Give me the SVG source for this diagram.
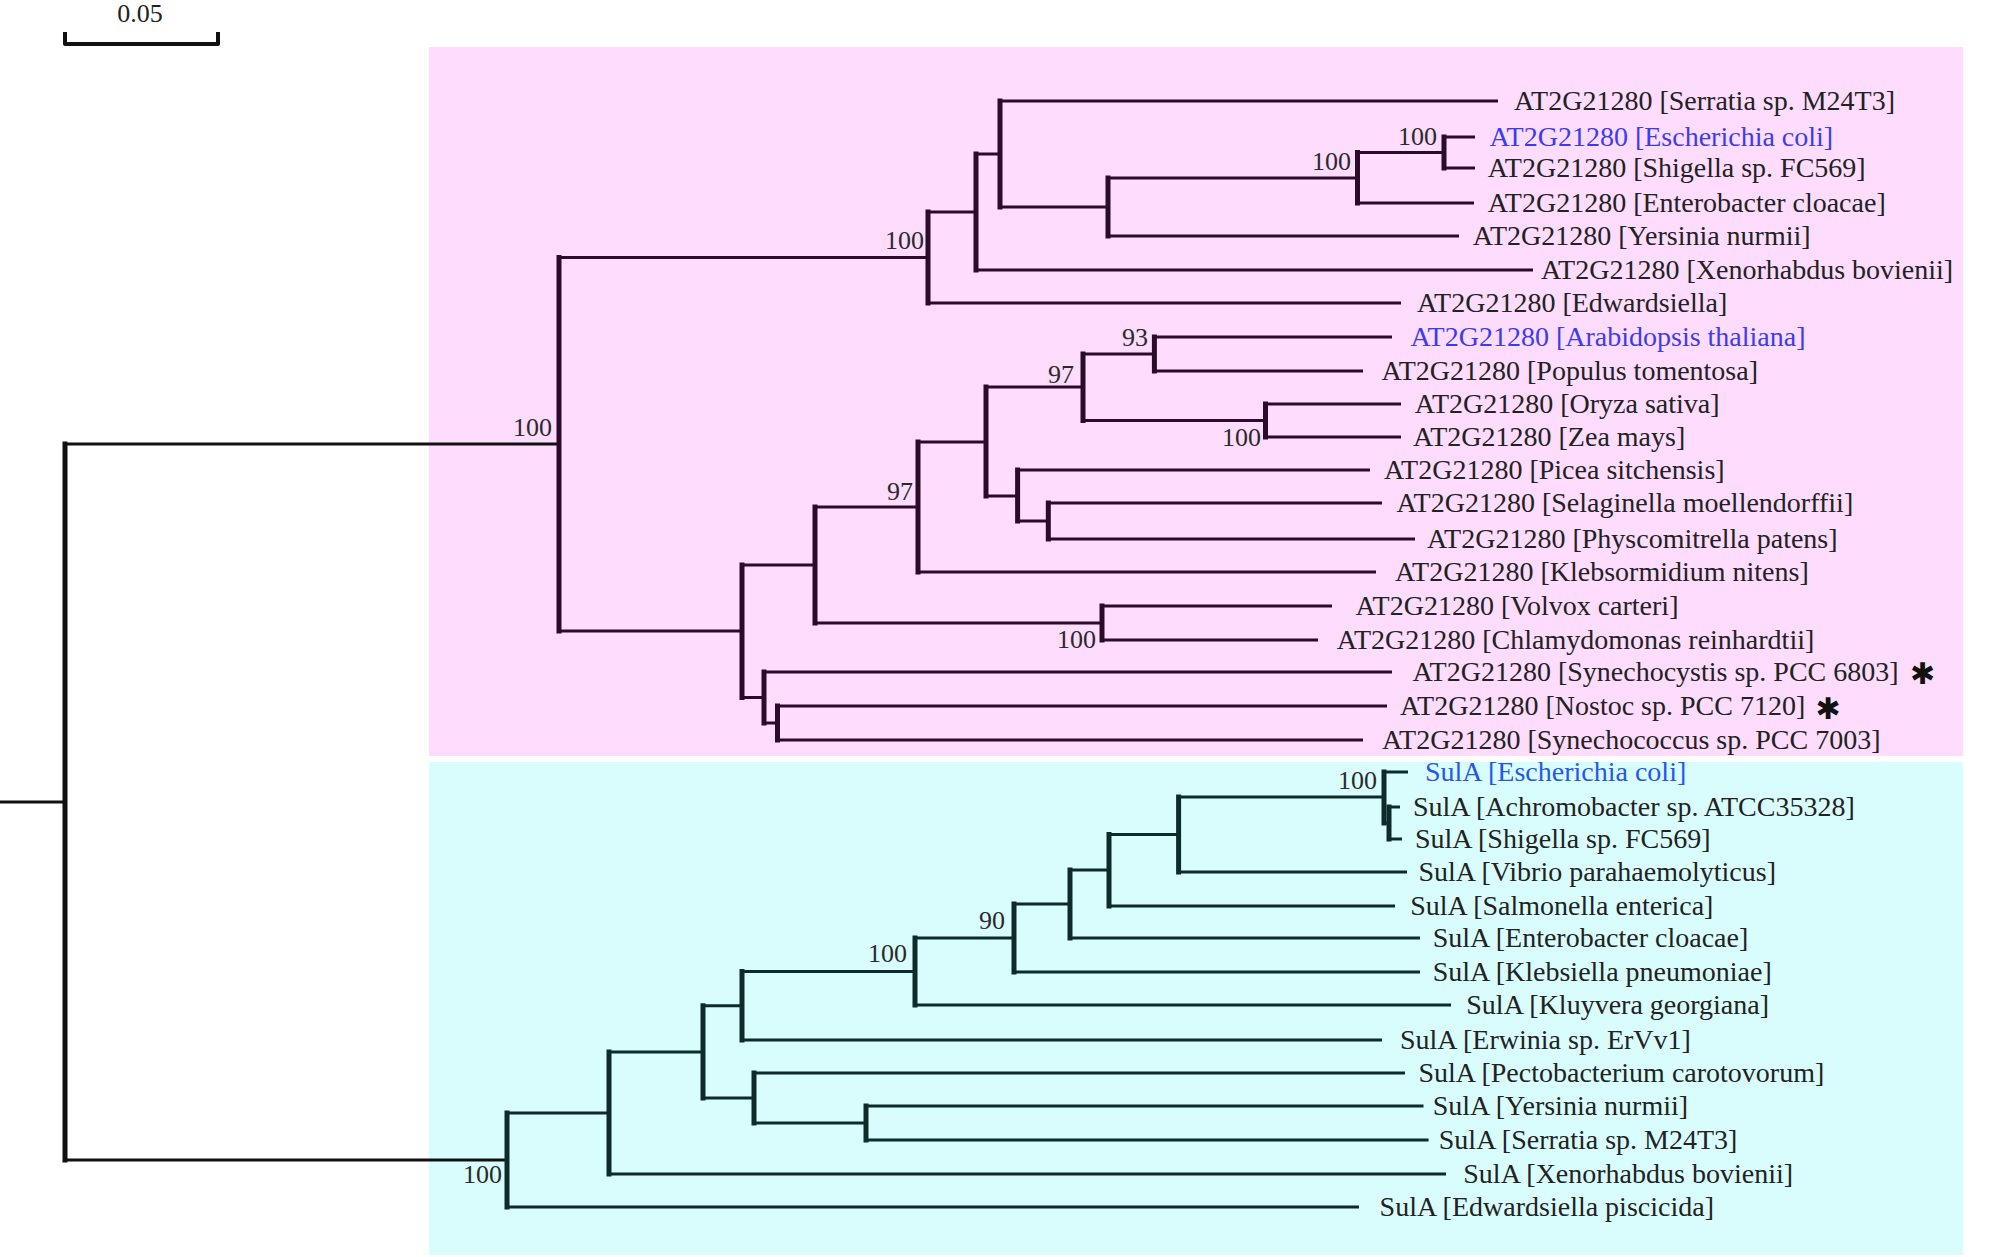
<svg xmlns="http://www.w3.org/2000/svg" width="2000" height="1257" viewBox="0 0 2000 1257">
<style>
text{font-family:"Liberation Serif","Times New Roman",serif;fill:#222}
.lf{font-size:28px}
.bs{font-size:26px;text-anchor:end;fill:#2a2a2a}
.blueP{fill:#3b3bf2}
.blueC{fill:#2457ee}
.ast{font-family:"DejaVu Sans",sans-serif;font-size:30px;fill:#111;text-anchor:middle}
.h{stroke-width:3;fill:none}
.v{stroke-width:5;fill:none;stroke-linecap:square}
.root line{stroke:#111}
.pk line{stroke:#2a0c2a}
.cy line{stroke:#0e2b2b}
</style>
<rect x="429" y="47" width="1534" height="709" fill="#fddcfd"/>
<rect x="429" y="762" width="1534" height="493" fill="#d9fdfd"/>

<g id="scale-bar">
<path d="M65,32 V44 H218 V32" fill="none" stroke="#111" stroke-width="4" stroke-linejoin="round"/>
<text x="140" y="22" style="font-size:26px" text-anchor="middle">0.05</text>
</g>

<g id="connectors">
<g class="root">
<line class="h" x1="0" y1="802" x2="65" y2="802"/>
<line class="v" x1="65" y1="444" x2="65" y2="1160"/>
<line class="h" x1="65" y1="444" x2="559" y2="444"/>
<line class="h" x1="65" y1="1160" x2="507" y2="1160"/>
</g>
<g class="pk">
<line class="v" x1="559" y1="257.5" x2="559" y2="631"/>
<line class="h" x1="559" y1="257.5" x2="928" y2="257.5"/>
<line class="h" x1="559" y1="631" x2="742" y2="631"/>
<line class="v" x1="928" y1="212" x2="928" y2="303"/>
<line class="h" x1="928" y1="212" x2="976" y2="212"/>
<line class="h" x1="928" y1="303" x2="1401" y2="303"/>
<line class="v" x1="976" y1="154" x2="976" y2="270"/>
<line class="h" x1="976" y1="154" x2="1000" y2="154"/>
<line class="h" x1="976" y1="270" x2="1533" y2="270"/>
<line class="v" x1="1000" y1="101" x2="1000" y2="207"/>
<line class="h" x1="1000" y1="101" x2="1498" y2="101"/>
<line class="h" x1="1000" y1="207" x2="1108" y2="207"/>
<line class="v" x1="1108" y1="178" x2="1108" y2="236"/>
<line class="h" x1="1108" y1="178" x2="1357.5" y2="178"/>
<line class="h" x1="1108" y1="236" x2="1459" y2="236"/>
<line class="v" x1="1357.5" y1="152.5" x2="1357.5" y2="203"/>
<line class="h" x1="1357.5" y1="152.5" x2="1444" y2="152.5"/>
<line class="h" x1="1357.5" y1="203" x2="1474" y2="203"/>
<line class="v" x1="1444" y1="137" x2="1444" y2="168"/>
<line class="h" x1="1444" y1="137" x2="1475" y2="137"/>
<line class="h" x1="1444" y1="168" x2="1475" y2="168"/>
<line class="v" x1="742" y1="565" x2="742" y2="697.5"/>
<line class="h" x1="742" y1="565" x2="815" y2="565"/>
<line class="h" x1="742" y1="697.5" x2="764" y2="697.5"/>
<line class="v" x1="815" y1="507" x2="815" y2="623"/>
<line class="h" x1="815" y1="507" x2="918" y2="507"/>
<line class="h" x1="815" y1="623" x2="1102" y2="623"/>
<line class="v" x1="1102" y1="606" x2="1102" y2="640"/>
<line class="h" x1="1102" y1="606" x2="1332" y2="606"/>
<line class="h" x1="1102" y1="640" x2="1318" y2="640"/>
<line class="v" x1="918" y1="442" x2="918" y2="572"/>
<line class="h" x1="918" y1="442" x2="986" y2="442"/>
<line class="h" x1="918" y1="572" x2="1376" y2="572"/>
<line class="v" x1="986" y1="387" x2="986" y2="496"/>
<line class="h" x1="986" y1="387" x2="1083" y2="387"/>
<line class="h" x1="986" y1="496" x2="1017.6" y2="496"/>
<line class="v" x1="1083" y1="354" x2="1083" y2="420.5"/>
<line class="h" x1="1083" y1="354" x2="1154.4" y2="354"/>
<line class="h" x1="1083" y1="420.5" x2="1265.5" y2="420.5"/>
<line class="v" x1="1154.4" y1="337" x2="1154.4" y2="371"/>
<line class="h" x1="1154.4" y1="337" x2="1392" y2="337"/>
<line class="h" x1="1154.4" y1="371" x2="1363" y2="371"/>
<line class="v" x1="1265.5" y1="404" x2="1265.5" y2="437"/>
<line class="h" x1="1265.5" y1="404" x2="1401" y2="404"/>
<line class="h" x1="1265.5" y1="437" x2="1401" y2="437"/>
<line class="v" x1="1017.6" y1="470" x2="1017.6" y2="521"/>
<line class="h" x1="1017.6" y1="470" x2="1370" y2="470"/>
<line class="h" x1="1017.6" y1="521" x2="1048.3" y2="521"/>
<line class="v" x1="1048.3" y1="503" x2="1048.3" y2="539"/>
<line class="h" x1="1048.3" y1="503" x2="1382" y2="503"/>
<line class="h" x1="1048.3" y1="539" x2="1415" y2="539"/>
<line class="v" x1="764" y1="672" x2="764" y2="723"/>
<line class="h" x1="764" y1="672" x2="1392" y2="672"/>
<line class="h" x1="764" y1="723" x2="777.5" y2="723"/>
<line class="v" x1="777.5" y1="706" x2="777.5" y2="740"/>
<line class="h" x1="777.5" y1="706" x2="1387" y2="706"/>
<line class="h" x1="777.5" y1="740" x2="1363" y2="740"/>
</g>
<g class="cy">
<line class="v" x1="507" y1="1113" x2="507" y2="1207"/>
<line class="h" x1="507" y1="1113" x2="609" y2="1113"/>
<line class="h" x1="507" y1="1207" x2="1359" y2="1207"/>
<line class="v" x1="609" y1="1052" x2="609" y2="1174"/>
<line class="h" x1="609" y1="1052" x2="703" y2="1052"/>
<line class="h" x1="609" y1="1174" x2="1446" y2="1174"/>
<line class="v" x1="703" y1="1005.75" x2="703" y2="1098"/>
<line class="h" x1="703" y1="1005.75" x2="742" y2="1005.75"/>
<line class="h" x1="703" y1="1098" x2="754" y2="1098"/>
<line class="v" x1="754" y1="1073" x2="754" y2="1123"/>
<line class="h" x1="754" y1="1073" x2="1405" y2="1073"/>
<line class="h" x1="754" y1="1123" x2="866" y2="1123"/>
<line class="v" x1="866" y1="1106" x2="866" y2="1140"/>
<line class="h" x1="866" y1="1106" x2="1423.5" y2="1106"/>
<line class="h" x1="866" y1="1140" x2="1428.6" y2="1140"/>
<line class="v" x1="742" y1="971.5" x2="742" y2="1040"/>
<line class="h" x1="742" y1="971.5" x2="915" y2="971.5"/>
<line class="h" x1="742" y1="1040" x2="1382" y2="1040"/>
<line class="v" x1="915" y1="938" x2="915" y2="1005"/>
<line class="h" x1="915" y1="938" x2="1014" y2="938"/>
<line class="h" x1="915" y1="1005" x2="1451" y2="1005"/>
<line class="v" x1="1014" y1="904" x2="1014" y2="972"/>
<line class="h" x1="1014" y1="904" x2="1070" y2="904"/>
<line class="h" x1="1014" y1="972" x2="1420" y2="972"/>
<line class="v" x1="1070" y1="870" x2="1070" y2="938"/>
<line class="h" x1="1070" y1="870" x2="1109" y2="870"/>
<line class="h" x1="1070" y1="938" x2="1420" y2="938"/>
<line class="v" x1="1109" y1="834.5" x2="1109" y2="906"/>
<line class="h" x1="1109" y1="834.5" x2="1178.6" y2="834.5"/>
<line class="h" x1="1109" y1="906" x2="1395" y2="906"/>
<line class="v" x1="1178.6" y1="797" x2="1178.6" y2="872"/>
<line class="h" x1="1178.6" y1="797" x2="1384" y2="797"/>
<line class="h" x1="1178.6" y1="872" x2="1407" y2="872"/>
<line class="v" x1="1384" y1="772" x2="1384" y2="823"/>
<line class="h" x1="1384" y1="772" x2="1408" y2="772"/>
<line class="h" x1="1384" y1="823" x2="1389" y2="823"/>
<line class="v" x1="1389" y1="807" x2="1389" y2="839"/>
<line class="h" x1="1389" y1="807" x2="1400" y2="807"/>
<line class="h" x1="1389" y1="839" x2="1402" y2="839"/>
</g>
</g>

<g id="bootstrap">
<g id="n-pink"><text class="bs" x="552" y="436">100</text></g>
<g id="n-enterobacteria-at"><text class="bs" x="924" y="249">100</text></g>
<g id="n-ecoli-shig-ent-at"><text class="bs" x="1351" y="170">100</text></g>
<g id="n-ecoli-shig-at"><text class="bs" x="1437" y="145">100</text></g>
<g id="n-arab-pop"><text class="bs" x="1148" y="346">93</text></g>
<g id="n-angio"><text class="bs" x="1074" y="383">97</text></g>
<g id="n-monocot"><text class="bs" x="1261" y="446">100</text></g>
<g id="n-streptophyta"><text class="bs" x="913" y="500">97</text></g>
<g id="n-chloro"><text class="bs" x="1096" y="648">100</text></g>
<g id="n-cyan"><text class="bs" x="502" y="1183">100</text></g>
<g id="n-kluy"><text class="bs" x="907" y="962">100</text></g>
<g id="n-kleb"><text class="bs" x="1005" y="929">90</text></g>
<g id="n-sula-ecoli"><text class="bs" x="1377" y="789">100</text></g>
</g>

<g id="leaves-at">
<g id="at-serratia"><text class="lf" x="1514" y="110">AT2G21280 [Serratia sp. M24T3]</text></g>
<g id="at-ecoli"><text class="lf blueP" x="1489.5" y="146">AT2G21280 [Escherichia coli]</text></g>
<g id="at-shigella"><text class="lf" x="1487.7" y="177">AT2G21280 [Shigella sp. FC569]</text></g>
<g id="at-enterobacter"><text class="lf" x="1487.7" y="212">AT2G21280 [Enterobacter cloacae]</text></g>
<g id="at-yersinia"><text class="lf" x="1472.8" y="245">AT2G21280 [Yersinia nurmii]</text></g>
<g id="at-xenorhabdus"><text class="lf" x="1541" y="279">AT2G21280 [Xenorhabdus bovienii]</text></g>
<g id="at-edwardsiella"><text class="lf" x="1417" y="312">AT2G21280 [Edwardsiella]</text></g>
<g id="at-arabidopsis"><text class="lf blueP" x="1410.5" y="346">AT2G21280 [Arabidopsis thaliana]</text></g>
<g id="at-populus"><text class="lf" x="1381.6" y="380">AT2G21280 [Populus tomentosa]</text></g>
<g id="at-oryza"><text class="lf" x="1414.8" y="413">AT2G21280 [Oryza sativa]</text></g>
<g id="at-zea"><text class="lf" x="1413.1" y="446">AT2G21280 [Zea mays]</text></g>
<g id="at-picea"><text class="lf" x="1384" y="479">AT2G21280 [Picea sitchensis]</text></g>
<g id="at-selaginella"><text class="lf" x="1396.5" y="512">AT2G21280 [Selaginella moellendorffii]</text></g>
<g id="at-physcomitrella"><text class="lf" x="1427" y="548">AT2G21280 [Physcomitrella patens]</text></g>
<g id="at-klebsormidium"><text class="lf" x="1395" y="581">AT2G21280 [Klebsormidium nitens]</text></g>
<g id="at-volvox"><text class="lf" x="1355.5" y="615">AT2G21280 [Volvox carteri]</text></g>
<g id="at-chlamydomonas"><text class="lf" x="1336.8" y="649">AT2G21280 [Chlamydomonas reinhardtii]</text></g>
<g id="at-synechocystis"><text class="lf" x="1412.5" y="681">AT2G21280 [Synechocystis sp. PCC 6803]</text><text class="ast" x="1922.5" y="683.5">✱</text></g>
<g id="at-nostoc"><text class="lf" x="1400" y="715">AT2G21280 [Nostoc sp. PCC 7120]</text><text class="ast" x="1828" y="719">✱</text></g>
<g id="at-synechococcus"><text class="lf" x="1382" y="749">AT2G21280 [Synechococcus sp. PCC 7003]</text></g>
</g>

<g id="leaves-sula">
<g id="sula-ecoli"><text class="lf blueC" x="1425" y="781">SulA [Escherichia coli]</text></g>
<g id="sula-achromobacter"><text class="lf" x="1413" y="816">SulA [Achromobacter sp. ATCC35328]</text></g>
<g id="sula-shigella"><text class="lf" x="1415" y="848">SulA [Shigella sp. FC569]</text></g>
<g id="sula-vibrio"><text class="lf" x="1418.4" y="881">SulA [Vibrio parahaemolyticus]</text></g>
<g id="sula-salmonella"><text class="lf" x="1410.2" y="915">SulA [Salmonella enterica]</text></g>
<g id="sula-enterobacter"><text class="lf" x="1432.7" y="947">SulA [Enterobacter cloacae]</text></g>
<g id="sula-klebsiella"><text class="lf" x="1432.7" y="981">SulA [Klebsiella pneumoniae]</text></g>
<g id="sula-kluyvera"><text class="lf" x="1466.3" y="1014">SulA [Kluyvera georgiana]</text></g>
<g id="sula-erwinia"><text class="lf" x="1400" y="1049">SulA [Erwinia sp. ErVv1]</text></g>
<g id="sula-pectobacterium"><text class="lf" x="1418.4" y="1082">SulA [Pectobacterium carotovorum]</text></g>
<g id="sula-yersinia"><text class="lf" x="1432.7" y="1115">SulA [Yersinia nurmii]</text></g>
<g id="sula-serratia"><text class="lf" x="1438.8" y="1149">SulA [Serratia sp. M24T3]</text></g>
<g id="sula-xenorhabdus"><text class="lf" x="1463.3" y="1183">SulA [Xenorhabdus bovienii]</text></g>
<g id="sula-edwardsiella"><text class="lf" x="1379.6" y="1216">SulA [Edwardsiella piscicida]</text></g>
</g>
</svg>
